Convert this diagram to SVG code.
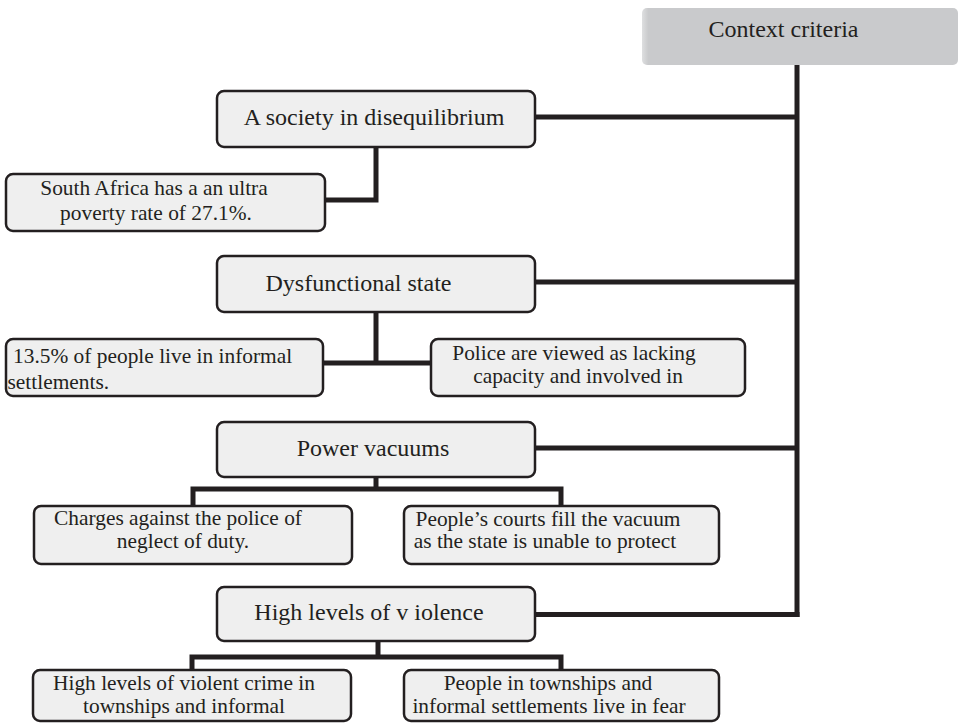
<svg xmlns="http://www.w3.org/2000/svg" width="963" height="723" viewBox="0 0 963 723">
<style>
text{font-family:"Liberation Serif","Times New Roman",serif;fill:#231f20}
.h{font-size:24px;text-anchor:middle}
.c{font-size:21.4px;text-anchor:middle}
.s{font-size:21.4px}
.box{fill:#efefef;stroke:#231f20;stroke-width:2.5}
.top{fill:#c9cacc}
.ln{fill:none;stroke:#231f20;stroke-width:5;stroke-linejoin:miter;stroke-linecap:butt}
</style>
<defs>
<linearGradient id="tg" x1="0" y1="0" x2="1" y2="0">
<stop offset="0" stop-color="#dedfe0"/>
<stop offset="0.02" stop-color="#c9cacc"/>
<stop offset="1" stop-color="#c9cacc"/>
</linearGradient>
</defs>
<rect width="963" height="723" fill="#fff"/>
<g id="connectors">
<path class="ln" d="M797 65 V617"/>
<path class="ln" d="M535 117 H797"/>
<path class="ln" d="M535 282 H797"/>
<path class="ln" d="M535 448 H797"/>
<path class="ln" d="M535 614.5 H799.5"/>
<path class="ln" d="M376 147 V200 H325"/>
<path class="ln" d="M376 312 V363"/>
<path class="ln" d="M323 363 H431"/>
<path class="ln" d="M376 477 V489"/>
<path class="ln" d="M193 506 V489 H561 V506"/>
<path class="ln" d="M378 641 V657"/>
<path class="ln" d="M192 670 V657 H561 V670"/>
</g>
<g id="context">
<rect x="642" y="8" width="316" height="57" rx="5" fill="url(#tg)"/>
<text class="h" x="783.5" y="37">Context criteria</text>
</g>
<g id="society">
<rect class="box" x="217" y="91" width="318" height="56" rx="7"/>
<text class="h" x="374" y="125">A society in disequilibrium</text>
</g>
<g id="poverty">
<rect class="box" x="6" y="174" width="319" height="57" rx="7"/>
<text class="c" x="154" y="195">South Africa has a an ultra</text>
<text class="c" x="156" y="220">poverty rate of 27.1%.</text>
</g>
<g id="dysfunctional">
<rect class="box" x="217" y="256" width="318" height="56" rx="7"/>
<text class="h" x="358.5" y="291">Dysfunctional state</text>
</g>
<g id="informal">
<rect class="box" x="6" y="339" width="317" height="57" rx="7"/>
<text class="s" x="13" y="363">13.5% of people live in informal</text>
<text class="s" x="7.5" y="389">settlements.</text>
</g>
<g id="police">
<rect class="box" x="431" y="339" width="314" height="57" rx="7"/>
<text class="c" x="574" y="360">Police are viewed as lacking</text>
<text class="c" x="578" y="383">capacity and involved in</text>
</g>
<g id="power">
<rect class="box" x="217" y="422" width="318" height="55" rx="7"/>
<text class="h" x="373" y="456">Power vacuums</text>
</g>
<g id="charges">
<rect class="box" x="34" y="506" width="318" height="58" rx="7"/>
<text class="c" x="178" y="525">Charges against the police of</text>
<text class="c" x="183" y="548">neglect of duty.</text>
</g>
<g id="courts">
<rect class="box" x="404" y="506" width="315" height="58" rx="7"/>
<text class="c" x="548" y="526">People’s courts fill the vacuum</text>
<text class="c" x="545" y="548">as the state is unable to protect</text>
</g>
<g id="violence">
<rect class="box" x="217" y="587" width="318" height="54" rx="7"/>
<text class="h" x="369" y="620">High levels of v iolence</text>
</g>
<g id="crime">
<rect class="box" x="33" y="670" width="318" height="51" rx="7"/>
<text class="c" x="184" y="690">High levels of violent crime in</text>
<text class="c" x="184" y="713">townships and informal</text>
</g>
<g id="fear">
<rect class="box" x="404" y="670" width="315" height="51" rx="7"/>
<text class="c" x="548" y="690">People in townships and</text>
<text class="c" x="549" y="713">informal settlements live in fear</text>
</g>
</svg>
